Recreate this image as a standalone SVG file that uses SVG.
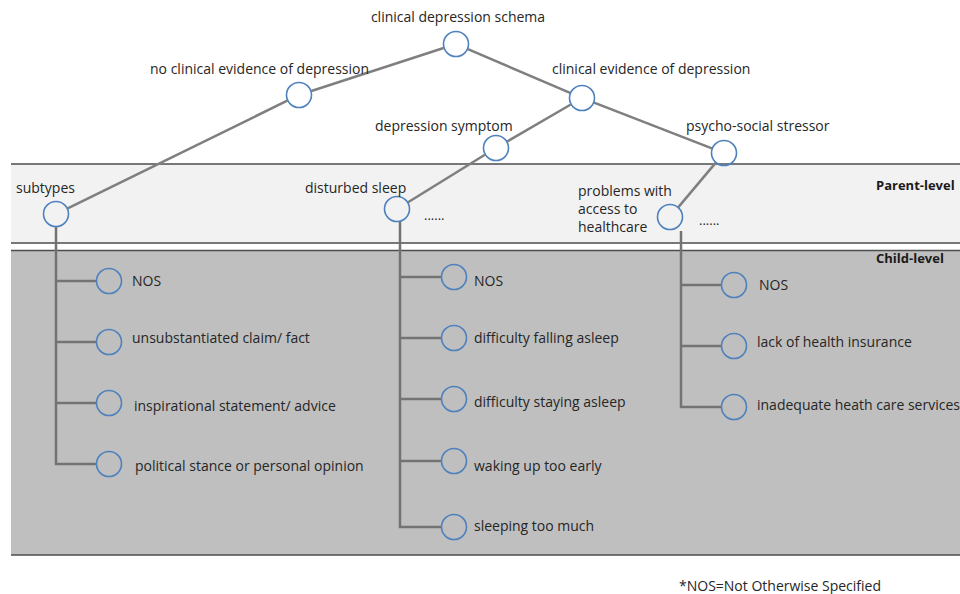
<svg xmlns="http://www.w3.org/2000/svg" width="960" height="594" viewBox="0 0 960 594">
<style>
text{font-family:"Open Sans","Liberation Sans",sans-serif;font-size:14px;fill:#262626}
.b{font-weight:bold;fill:#1a1a1a;font-size:13px}
.d{font-size:13px}
.n{fill:none;stroke:#4f81bd;stroke-width:1.6}
.c{stroke:#7f7f7f;stroke-width:2.5;fill:none;stroke-linecap:butt}
.v{stroke:#737373;stroke-width:2.5;fill:none}
.band{stroke:#4d4d4d;stroke-width:1.6}
</style>
<rect width="960" height="594" fill="#fff"/>
<g id="bands">
<rect x="11" y="164" width="949" height="79" fill="#f2f2f2"/>
<rect x="11" y="250.5" width="949" height="304.5" fill="#bfbfbf"/>
<line class="band" x1="11" y1="164" x2="960" y2="164"/>
<line class="band" x1="11" y1="243" x2="960" y2="243"/>
<line class="band" x1="11" y1="250.5" x2="960" y2="250.5"/>
<line class="band" x1="11" y1="555" x2="960" y2="555"/>
<text class="b" x="876" y="190">Parent-level</text>
<text class="b" x="876" y="263">Child-level</text>
</g>
<g id="connectors">
<line class="c" x1="443.6" y1="48" x2="311.4" y2="91"/>
<line class="c" x1="467.9" y1="49.1" x2="570.1" y2="92.9"/>
<line class="c" x1="287.3" y1="100.7" x2="67.7" y2="208.3"/>
<line class="c" x1="570.8" y1="104.5" x2="507.2" y2="141.5"/>
<line class="c" x1="594.1" y1="102.7" x2="711.9" y2="148.3"/>
<line class="c" x1="484.9" y1="154.8" x2="408.1" y2="202.2"/>
<line class="c" x1="715.6" y1="162.9" x2="678.4" y2="207.1"/>
<polyline class="v" points="56,227 56,464 96,464"/>
<line class="v" x1="56" y1="281" x2="96" y2="281"/>
<line class="v" x1="56" y1="342" x2="96" y2="342"/>
<line class="v" x1="56" y1="403" x2="96" y2="403"/>
<polyline class="v" points="400,222 400,527 441,527"/>
<line class="v" x1="400" y1="277" x2="441" y2="277"/>
<line class="v" x1="400" y1="338" x2="441" y2="338"/>
<line class="v" x1="400" y1="399" x2="441" y2="399"/>
<line class="v" x1="400" y1="461" x2="441" y2="461"/>
<polyline class="v" points="681,231 681,407 721,407"/>
<line class="v" x1="681" y1="285" x2="721" y2="285"/>
<line class="v" x1="681" y1="346" x2="721" y2="346"/>
</g>
<g id="root"><circle class="n" cx="456" cy="44" r="12.5"/><text x="458" y="22" text-anchor="middle">clinical depression schema</text></g>
<g id="no-clinical"><circle class="n" cx="299" cy="95" r="12.5"/><text x="150" y="74">no clinical evidence of depression</text></g>
<g id="clinical"><circle class="n" cx="582" cy="98" r="12.5"/><text x="552" y="74">clinical evidence of depression</text></g>
<g id="symptom"><circle class="n" cx="496" cy="148" r="12.5"/><text x="375" y="131">depression symptom</text></g>
<g id="stressor"><circle class="n" cx="724" cy="153" r="12.5"/><text x="686" y="131">psycho-social stressor</text></g>
<g id="subtypes"><circle class="n" cx="56" cy="214" r="12.5"/><text x="16" y="193">subtypes</text></g>
<g id="sleep"><circle class="n" cx="397" cy="209" r="12.5"/><text x="305" y="193">disturbed sleep</text><text class="d" x="424" y="220">......</text></g>
<g id="access"><circle class="n" cx="670" cy="217" r="12.5"/><text x="578" y="196">problems with</text><text x="578" y="214">access to</text><text x="578" y="232">healthcare</text><text class="d" x="699" y="225">......</text></g>
<g id="c1"><circle class="n" cx="109" cy="281" r="12.5"/><text x="132" y="286">NOS</text></g>
<g id="c2"><circle class="n" cx="109" cy="342" r="12.5"/><text x="132" y="343">unsubstantiated claim/ fact</text></g>
<g id="c3"><circle class="n" cx="109" cy="403" r="12.5"/><text x="134" y="411">inspirational statement/ advice</text></g>
<g id="c4"><circle class="n" cx="109" cy="464" r="12.5"/><text x="135" y="471">political stance or personal opinion</text></g>
<g id="s1"><circle class="n" cx="454" cy="277" r="12.5"/><text x="474" y="286">NOS</text></g>
<g id="s2"><circle class="n" cx="454" cy="338" r="12.5"/><text x="474" y="343">difficulty falling asleep</text></g>
<g id="s3"><circle class="n" cx="454" cy="399" r="12.5"/><text x="474" y="407">difficulty staying asleep</text></g>
<g id="s4"><circle class="n" cx="454" cy="461" r="12.5"/><text x="474" y="471">waking up too early</text></g>
<g id="s5"><circle class="n" cx="454" cy="527" r="12.5"/><text x="474" y="531">sleeping too much</text></g>
<g id="h1"><circle class="n" cx="734" cy="285" r="12.5"/><text x="759" y="290">NOS</text></g>
<g id="h2"><circle class="n" cx="734" cy="346" r="12.5"/><text x="757" y="347">lack of health insurance</text></g>
<g id="h3"><circle class="n" cx="734" cy="407" r="12.5"/><text x="757" y="410">inadequate heath care services</text></g>
<text x="679" y="591">*NOS=Not Otherwise Specified</text>
</svg>
